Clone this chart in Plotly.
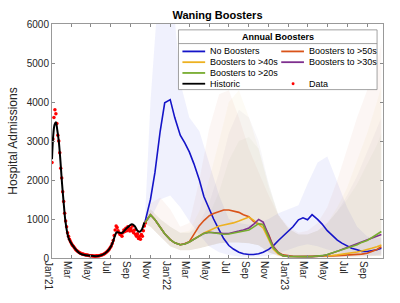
import pandas as pd
import plotly.graph_objects as go

# Historic (black line)
hist_dates = ["2021-01-01", "2021-01-05", "2021-01-09", "2021-01-13", "2021-01-17", "2021-01-22",
              "2021-01-27", "2021-02-01", "2021-02-07", "2021-02-12", "2021-02-22", "2021-03-09",
              "2021-03-29", "2021-04-29", "2021-05-24", "2021-06-13", "2021-06-28", "2021-07-08",
              "2021-07-14", "2021-07-20", "2021-07-28", "2021-08-05", "2021-08-18", "2021-08-28",
              "2021-09-05", "2021-09-13", "2021-09-22", "2021-09-29", "2021-10-06", "2021-10-13"]
hist_vals = [2530, 3160, 3420, 3480, 3300, 2990, 2490, 1910, 1325, 910, 490, 285,
             115, 60, 50, 115, 240, 410, 560, 660, 650, 640, 750, 825,
             865, 820, 700, 675, 740, 910]

# Data (red dots), every 3 days
data_start = "2021-01-01"
data_vals = [2450, 3050, 3600, 3800, 3700, 3450, 3150, 3000, 2700, 2300, 2050, 1700,
             1450, 1150, 950, 800, 650, 560, 480, 420, 370, 330, 300, 260,
             230, 200, 180, 160, 140, 130, 115, 105, 100, 90, 85, 80,
             75, 70, 65, 60, 55, 55, 50, 50, 45, 50, 55, 50,
             55, 60, 70, 75, 85, 95, 110, 130, 150, 175, 200, 230,
             270, 310, 370, 450, 580, 720, 820, 780, 700, 650, 600, 620,
             560, 650, 720, 680, 760, 700, 800, 740, 690, 760, 700, 820,
             650, 720, 600, 560, 620, 500, 550, 480, 600, 560, 700, 820, 900]

# Projections (half-monthly)
proj_dates = ["2021-10-15", "2021-11-01", "2021-11-15", "2021-12-01", "2021-12-15",
              "2022-01-01", "2022-01-15", "2022-02-01", "2022-02-15", "2022-03-01", "2022-03-15",
              "2022-04-01", "2022-04-15", "2022-05-01", "2022-05-15", "2022-06-01", "2022-06-15",
              "2022-07-01", "2022-07-15", "2022-08-01", "2022-08-15", "2022-09-01", "2022-09-15",
              "2022-10-01", "2022-10-15", "2022-11-01", "2022-11-15", "2022-12-01", "2022-12-15",
              "2023-01-01", "2023-01-15", "2023-02-01", "2023-02-15", "2023-03-01", "2023-03-15",
              "2023-04-01", "2023-04-15", "2023-05-01", "2023-05-15", "2023-06-01", "2023-06-15",
              "2023-07-01", "2023-07-15", "2023-08-01", "2023-08-15", "2023-09-01", "2023-09-15",
              "2023-10-01", "2023-10-15"]
no_boosters = [920, 1500, 2200, 3250, 3980, 4060, 3600, 3150, 2950, 2720, 2420,
               2000, 1575, 1250, 1000, 720, 500, 320, 230, 150, 110, 90, 90,
               110, 150, 220, 310, 450, 560, 700, 800, 980, 1030, 980, 1110,
               990, 870, 700, 580, 460, 380, 300, 250, 210, 170, 165, 180, 210, 250]
boost_50 = [900, 1110, 980, 780, 620, 470, 390, 340, 370, 420, 600,
            830, 960, 1080, 1140, 1200, 1230, 1230, 1200, 1170, 1110, 1060, 940,
            870, 860, 600, 300, 140, 80, 55, 45, 40, 40, 40, 40,
            40, 45, 50, 55, 60, 65, 70, 75, 85, 100, 120, 160, 220, 290]
boost_40 = [900, 1110, 980, 780, 620, 470, 390, 340, 360, 410, 480,
            580, 640, 700, 760, 820, 845, 865, 900, 950, 990, 1050, 970,
            870, 770, 480, 230, 100, 55, 40, 35, 35, 35, 35, 35,
            40, 45, 55, 65, 80, 95, 110, 130, 155, 180, 210, 250, 290, 330]
boost_30 = [900, 1110, 980, 780, 620, 470, 390, 340, 360, 410, 480,
            570, 630, 660, 650, 630, 625, 630, 650, 690, 720, 770, 860,
            990, 920, 560, 290, 130, 60, 40, 35, 35, 35, 35, 35,
            40, 55, 85, 120, 170, 220, 270, 320, 370, 420, 470, 510, 560, 600]
boost_20 = [900, 1110, 980, 780, 620, 470, 390, 340, 360, 410, 480,
            570, 630, 660, 640, 615, 610, 615, 640, 660, 690, 720, 790,
            880, 850, 520, 260, 130, 60, 40, 35, 35, 35, 35, 40,
            45, 60, 90, 130, 170, 210, 260, 290, 340, 400, 450, 520, 600, 680]

# Uncertainty bands (monthly)
band_dates = ["2021-10-15", "2021-11-01", "2021-12-01", "2022-01-01", "2022-02-01", "2022-03-01",
              "2022-04-01", "2022-05-01", "2022-06-01", "2022-07-01", "2022-08-01", "2022-09-01",
              "2022-10-01", "2022-11-01", "2022-12-01", "2023-01-01", "2023-02-01", "2023-03-01",
              "2023-04-01", "2023-05-01", "2023-06-01", "2023-07-01", "2023-08-01", "2023-09-01",
              "2023-10-01", "2023-10-15"]
no_boosters_hi = [1000, 4000, 7500, 7500, 4500, 3600, 3250, 2450, 1600, 1000, 900, 850, 900,
                  1000, 1150, 1250, 1350, 1900, 2450, 2600, 1950, 1300, 800, 550, 500, 520]
no_boosters_lo = [880, 1000, 1500, 1600, 1300, 950, 600, 300, 150, 80, 40, 30, 40,
                  60, 120, 200, 300, 350, 300, 220, 150, 100, 80, 70, 80, 90]
boost_50_hi = [1000, 1400, 1550, 1250, 800, 900, 2000, 3300, 4200, 4300, 3600, 2800, 2200,
               1600, 1100, 800, 650, 700, 900, 1300, 2000, 2800, 3600, 4300, 5000, 5500]
boost_40_hi = [1000, 1250, 1000, 800, 650, 700, 1200, 2000, 3000, 4000, 4300, 3600, 2800,
               1800, 1100, 750, 600, 600, 700, 900, 1300, 1800, 2500, 3200, 4000, 4400]
boost_30_hi = [1000, 1250, 1000, 800, 650, 650, 900, 1400, 2200, 3200, 3800, 3600, 3000,
               1900, 1100, 750, 600, 600, 700, 900, 1200, 1600, 2100, 2700, 3300, 3600]
boost_20_hi = [1000, 1250, 1000, 800, 650, 650, 800, 1100, 1700, 2500, 3000, 3100, 2800,
               1900, 1100, 750, 600, 600, 700, 900, 1200, 1500, 1900, 2400, 2900, 3200]
boost_lo = [880, 800, 550, 300, 200, 200, 250, 320, 380, 400, 400, 380, 330,
            150, 50, 20, 15, 15, 15, 15, 20, 25, 30, 40, 50, 60]

tick_vals = ["2021-01-01", "2021-03-01", "2021-05-01", "2021-07-01", "2021-09-01", "2021-11-01",
             "2022-01-01", "2022-03-01", "2022-05-01", "2022-07-01", "2022-09-01", "2022-11-01",
             "2023-01-01", "2023-03-01", "2023-05-01", "2023-07-01", "2023-09-01"]
tick_text = ["Jan'21", "Mar", "May", "Jul", "Sep", "Nov", "Jan'22", "Mar", "May", "Jul", "Sep",
             "Nov", "Jan'23", "Mar", "May", "Jul", "Sep"]

BLUE = "#1414C8"
ORANGE = "#D95319"
YELLOW = "#EDB120"
PURPLE = "#7E2F8E"
GREEN = "#77AC30"

fig = go.Figure()

# bands
bands = [
    (no_boosters_hi, no_boosters_lo, "rgba(40,50,230,0.07)"),
    (boost_50_hi, boost_lo, "rgba(200,110,60,0.06)"),
    (boost_40_hi, boost_lo, "rgba(220,180,80,0.06)"),
    (boost_30_hi, boost_lo, "rgba(126,90,130,0.05)"),
    (boost_20_hi, boost_lo, "rgba(140,160,90,0.05)"),
]
for hi, lo, col in bands:
    fig.add_trace(go.Scatter(x=band_dates, y=lo, mode="lines", line=dict(width=0),
                             showlegend=False, hoverinfo="skip"))
    fig.add_trace(go.Scatter(x=band_dates, y=hi, mode="lines", line=dict(width=0),
                             fill="tonexty", fillcolor=col, showlegend=False, hoverinfo="skip"))

# data
data_dates = pd.date_range(data_start, periods=len(data_vals), freq="3D")
fig.add_trace(go.Scatter(x=data_dates, y=data_vals, mode="markers", name="Data",
                         marker=dict(color="#FF0000", size=3.5)))

lines = [
    ("No Boosters", no_boosters, BLUE),
    ("Boosters to >50s", boost_50, ORANGE),
    ("Boosters to >40s", boost_40, YELLOW),
    ("Boosters to >30s", boost_30, PURPLE),
    ("Boosters to >20s", boost_20, GREEN),
]
for name, vals, col in lines:
    fig.add_trace(go.Scatter(x=proj_dates, y=vals, mode="lines", name=name,
                             line=dict(color=col, width=1.6)))

fig.add_trace(go.Scatter(x=hist_dates, y=hist_vals, mode="lines", name="Historic",
                         line=dict(color="black", width=2, shape="spline")))

# manual legend (pixel -> paper coords)
L, R, T, B = 48, 383, 24, 263
def px(x):
    return (x - L) / (R - L)
def py(y):
    return (B - y) / (B - T)

shapes = [
    dict(type="rect", xref="paper", yref="paper", x0=px(176), x1=px(377), y0=py(91), y1=py(30),
         fillcolor="white", line=dict(color="#8a8a8a", width=0.8), layer="above"),
    dict(type="line", xref="paper", yref="paper", x0=px(176), x1=px(377), y0=py(44), y1=py(44),
         line=dict(color="#8a8a8a", width=0.8), layer="above"),
]
annotations = [
    dict(text="<b>Annual Boosters</b>", xref="paper", yref="paper", x=px(277), y=py(37.5),
         showarrow=False, font=dict(size=9, color="black"), xanchor="center", yanchor="middle"),
]
legend_items = [
    ("No Boosters", BLUE, 180, 52),
    ("Boosters to >50s", ORANGE, 280, 52),
    ("Boosters to >40s", YELLOW, 180, 63),
    ("Boosters to >30s", PURPLE, 280, 63),
    ("Boosters to >20s", GREEN, 180, 74),
    ("Historic", "black", 180, 85),
]
for name, col, x0, y0 in legend_items:
    shapes.append(dict(type="line", xref="paper", yref="paper", x0=px(x0), x1=px(x0 + 23),
                       y0=py(y0), y1=py(y0), line=dict(color=col, width=1.8), layer="above"))
    annotations.append(dict(text=name, xref="paper", yref="paper", x=px(x0 + 26), y=py(y0),
                            showarrow=False, font=dict(size=9, color="black"),
                            xanchor="left", yanchor="middle"))
shapes.append(dict(type="circle", xref="paper", yref="paper", x0=px(290.5), x1=px(293.5),
                   y0=py(86.5), y1=py(83.5), fillcolor="#FF0000", line=dict(width=0), layer="above"))
annotations.append(dict(text="Data", xref="paper", yref="paper", x=px(306), y=py(85),
                        showarrow=False, font=dict(size=9, color="black"),
                        xanchor="left", yanchor="middle"))

fig.update_layout(
    width=400, height=303,
    margin=dict(l=L, r=400 - R, t=T, b=303 - B),
    paper_bgcolor="white", plot_bgcolor="white",
    font=dict(family="Liberation Sans, Arial, sans-serif", size=10, color="#262626"),
    title=dict(text="<b>Waning Boosters</b>", x=px(215.5), xref="paper", y=1 - 15 / 303,
               yref="container", xanchor="center", yanchor="middle",
               font=dict(size=11, color="black")),
    showlegend=False,
    shapes=shapes, annotations=annotations,
)
fig.update_xaxes(range=["2021-01-01", "2023-10-20"], tickvals=tick_vals, ticktext=tick_text,
                 tickangle=90, ticklabelshift=-4, ticks="inside", ticklen=3, tickcolor="#888",
                 showline=True, linecolor="#999", linewidth=1, mirror="ticks", showgrid=False,
                 zeroline=False, tickfont=dict(size=10))
fig.update_yaxes(range=[0, 6000], dtick=1000, tickformat="d", ticks="inside", ticklen=3,
                 tickcolor="#888", showline=True, linecolor="#999", linewidth=1, mirror="ticks",
                 showgrid=False, zeroline=False, tickfont=dict(size=10),
                 title=dict(text="Hospital Admissions", font=dict(size=12, color="#262626"),
                            standoff=6))

# page body has a default 8px margin; remove it so the figure sits at the window origin
fig.write_html("out.html", config={"displayModeBar": False},
               post_script="document.body.style.margin='0';")
